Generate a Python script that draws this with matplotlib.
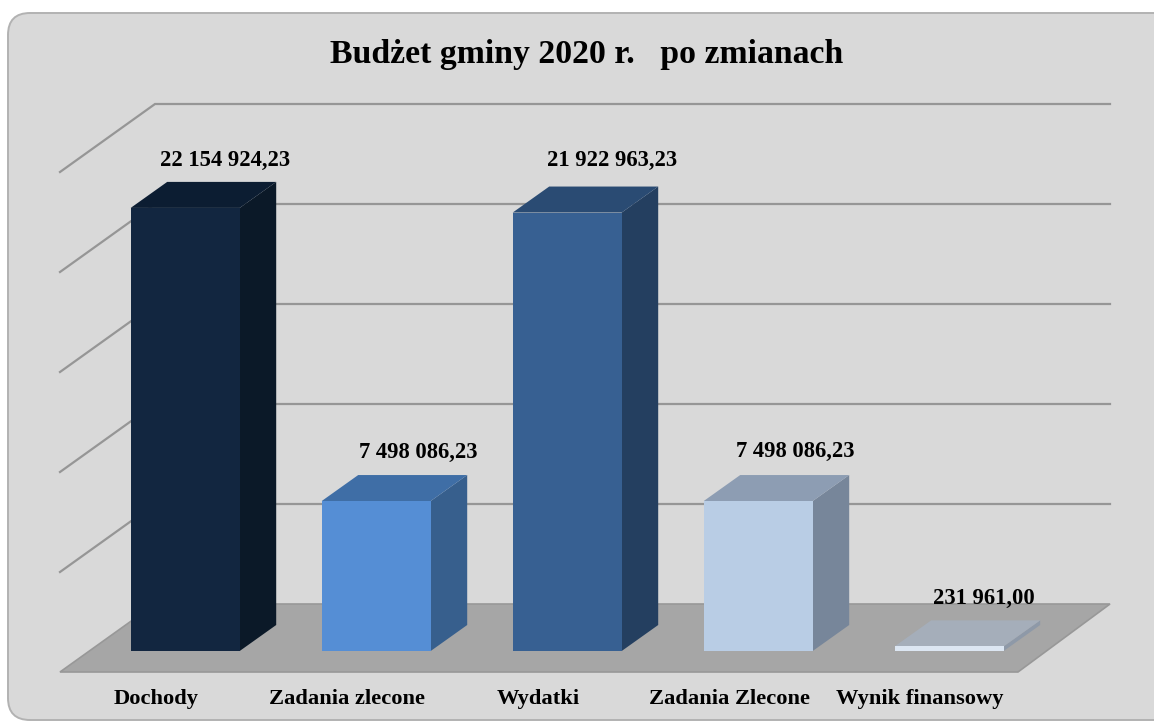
import matplotlib
matplotlib.use('Agg')
import matplotlib.pyplot as plt
from matplotlib.patches import FancyBboxPatch, Polygon
from matplotlib.transforms import IdentityTransform

plt.rcParams['font.family'] = ['Liberation Serif', 'DejaVu Serif']

# dane
categories = ['Dochody', 'Zadania zlecone', 'Wydatki', 'Zadania Zlecone', 'Wynik finansowy']
values = [22154924.23, 7498086.23, 21922963.23, 7498086.23, 231961.00]
value_labels = ['22 154 924,23', '7 498 086,23', '21 922 963,23', '7 498 086,23', '231 961,00']
gridlines = [5000000, 10000000, 15000000, 20000000, 25000000]

# kolory: przod, bok, gora
front_colors = ['#122640', '#558ED5', '#376092', '#B9CDE5', '#DCE6F2']
side_colors = ['#0B1928', '#375F8D', '#243F60', '#77869A', '#8E99A8']
top_colors = ['#0C1D32', '#3F6EA6', '#2A4B73', '#8D9DB3', '#A5AEBA']

W, H = 1154, 721
PX_PER_CAT = 191.0
PX_PER_VAL = 2.0e-5
X0 = 185.2   # srodek pierwszego slupka, px
Y0 = 651.0   # podstawa slupkow, px

fig = plt.figure(figsize=(W / 100, H / 100), dpi=100, facecolor='white')
ax = fig.add_axes([0, 0, 1, 1])
ax.set_xlim(-X0 / PX_PER_CAT, (W - X0) / PX_PER_CAT)
ax.set_ylim((Y0 - H) / PX_PER_VAL, Y0 / PX_PER_VAL)
ax.axis('off')

# przesuniecia w jednostkach danych
def dx(px):
    return px / PX_PER_CAT

def dy(px):
    return px / PX_PER_VAL

bar_w = 109 / PX_PER_CAT
depth_x, depth_y = dx(36.5), dy(26)

# tlo
panel = FancyBboxPatch((8, 1), 1180, 707, boxstyle='round,pad=0,rounding_size=22',
                       transform=IdentityTransform(), fc='#D9D9D9', ec='#B2B2B2', lw=1.4, zorder=0)
ax.add_patch(panel)

# podloga i sciany
left_front = -X0 / PX_PER_CAT + dx(60)
right_front = -X0 / PX_PER_CAT + dx(1018)
left_back = -X0 / PX_PER_CAT + dx(155)
right_back = -X0 / PX_PER_CAT + dx(1110)
floor_front = dy(-21)
floor_back = dy(47)

ax.add_patch(Polygon([(left_front, floor_front), (right_front, floor_front),
                      (right_back, floor_back), (left_back, floor_back)],
                     fc='#A6A6A6', ec='#989898', lw=1.2, zorder=1))
for g in gridlines:
    ax.plot([left_front, left_back, right_back],
            [floor_front + g, floor_back + g, floor_back + g],
            color='#969696', lw=1.6, zorder=1, solid_joinstyle='miter')

# slupki
for i, v in enumerate(values):
    l, r = i - bar_w / 2, i + bar_w / 2
    ax.add_patch(Polygon([(r, 0), (r + depth_x, depth_y), (r + depth_x, v + depth_y), (r, v)],
                         fc=side_colors[i], ec='none', zorder=3))
    ax.add_patch(Polygon([(l, v), (r, v), (r + depth_x, v + depth_y), (l + depth_x, v + depth_y)],
                         fc=top_colors[i], ec='none', zorder=3))
    ax.bar(i, v, width=bar_w, bottom=0, color=front_colors[i], zorder=4)

# etykiety
label_dx = [40, 42, 45, 37.5, 34.5]
label_dy = [47, 49, 52, 50, 48]
for i, v in enumerate(values):
    ax.text(i + dx(label_dx[i]), v + dy(label_dy[i]), value_labels[i], ha='center', va='center',
            fontsize=16.3, fontweight='bold', color='black', zorder=6)
    ax.text(i - dx(29), dy(-48), categories[i], ha='center', va='center',
            fontsize=16.2, fontweight='bold', color='black', zorder=6)

ax.text(dx(401), dy(596), 'Budżet gminy 2020 r.   po zmianach', ha='center', va='center',
        fontsize=24.3, fontweight='bold', color='black', zorder=6)

fig.savefig('out.png', dpi=100)
